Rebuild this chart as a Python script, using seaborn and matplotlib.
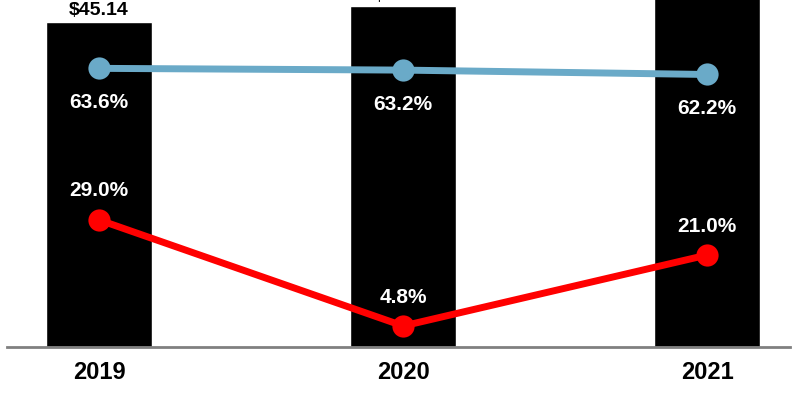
import numpy as np
import pandas as pd
import matplotlib
matplotlib.use("Agg")
import matplotlib.pyplot as plt
import seaborn as sns

# -------------------------
# Data
# -------------------------
years = ["2019", "2020", "2021"]
revenue = [45.14, 47.30, 52.00]
revenue_labels = ["$45.14", "$47.30", "$52.00"]
gross_margin = [63.6, 63.2, 62.2]
op_margin = [29.0, 4.8, 21.0]

sns.set_style("white")
plt.rcParams["font.family"] = ["Liberation Sans", "DejaVu Sans"]

fig = plt.figure(figsize=(8, 4), dpi=100)
ax = fig.add_axes([0.00875, 0.1325, 0.979, 0.8675])

# -------------------------
# Bars
# -------------------------
df = pd.DataFrame({"year": years, "revenue": revenue})
sns.barplot(data=df, x="year", y="revenue", color="black", width=0.35,
            saturation=1, ax=ax)
for patch, lab in zip(ax.patches, revenue_labels):
    ax.annotate(lab, (patch.get_x() + patch.get_width() / 2, patch.get_height()),
                xytext=(0, 2), textcoords="offset points", ha="center", va="bottom",
                fontsize=14, fontweight="bold", color="black", annotation_clip=False)
ax.set_ylim(0, 48.19)
ax.set_xlim(-0.303, 2.273)

# -------------------------
# Lines
# -------------------------
ax2 = ax.twinx()
xpos = np.arange(len(years))
sns.lineplot(x=xpos, y=gross_margin, color="#6aaac8", linewidth=5, marker="o",
             markersize=16, markeredgewidth=0, ax=ax2)
sns.lineplot(x=xpos, y=op_margin, color="#ff0000", linewidth=5, marker="o",
             markersize=16, markeredgewidth=0, ax=ax2)
ax2.set_ylim(0, 79.2)
ax2.set_xlim(-0.303, 2.273)

for x, v in zip(xpos, gross_margin):
    ax2.annotate(f"{v:.1f}%", (x, v), xytext=(0, -18), textcoords="offset points",
                 ha="center", va="top", color="white", fontsize=15,
                 fontweight="bold")
for x, v in zip(xpos, op_margin):
    ax2.annotate(f"{v:.1f}%", (x, v), xytext=(0, 14), textcoords="offset points",
                 ha="center", va="bottom", color="white", fontsize=15,
                 fontweight="bold")

# -------------------------
# Axes styling
# -------------------------
for a in (ax, ax2):
    for s in ["top", "right", "left"]:
        a.spines[s].set_visible(False)
    a.set_yticks([])
    a.set_ylabel("")
ax2.spines["bottom"].set_visible(False)
ax.spines["bottom"].set_color("#808080")
ax.spines["bottom"].set_linewidth(2)
ax.set_xlabel("")
ax.tick_params(axis="x", length=0, pad=10, colors="black")
for t in ax.get_xticklabels():
    t.set_fontsize(17)
    t.set_fontweight("bold")
    t.set_color("black")

fig.savefig("out.png", dpi=100)
